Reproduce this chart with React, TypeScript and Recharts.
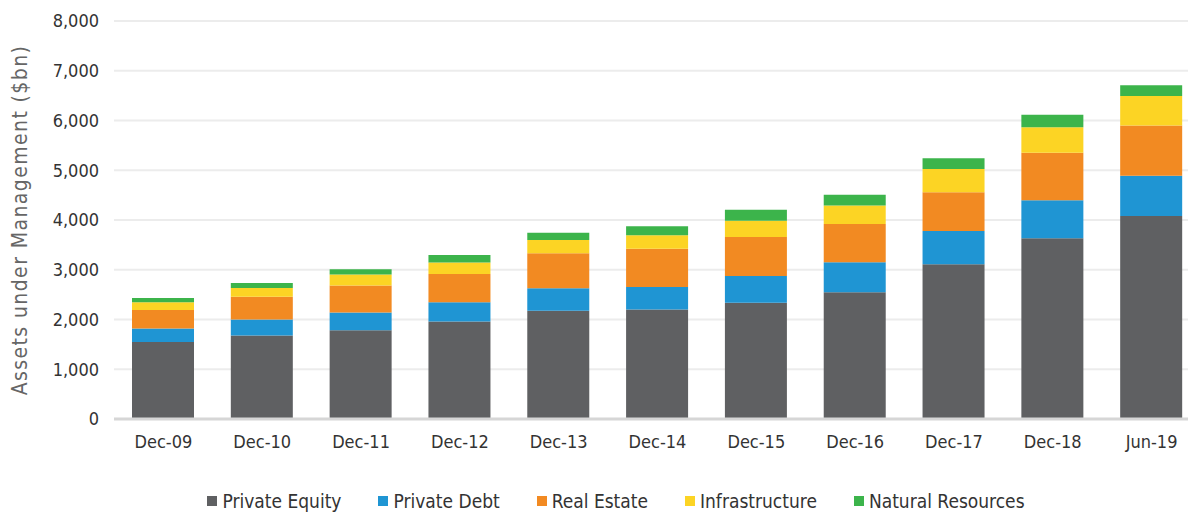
import { BarChart, Bar, XAxis, YAxis, CartesianGrid } from 'recharts';

// AuM by asset class ($bn)
const categories = ['Dec-09', 'Dec-10', 'Dec-11', 'Dec-12', 'Dec-13', 'Dec-14', 'Dec-15', 'Dec-16', 'Dec-17', 'Dec-18', 'Jun-19'];
const privateEquity = [1550, 1680, 1785, 1960, 2175, 2200, 2335, 2550, 3110, 3635, 4080];
const privateDebt = [270, 320, 355, 385, 455, 455, 540, 600, 670, 760, 810];
const realEstate = [370, 455, 545, 570, 700, 765, 785, 770, 780, 955, 1010];
const infrastructure = [155, 180, 220, 230, 270, 275, 325, 370, 465, 515, 590];
const naturalResources = [85, 100, 105, 150, 145, 180, 220, 220, 215, 250, 220];
const yTicks = [0, 1000, 2000, 3000, 4000, 5000, 6000, 7000, 8000];

const series = [
  { key: 'pe', name: 'Private Equity', color: '#5f6062', values: privateEquity },
  { key: 'pd', name: 'Private Debt', color: '#1f95d3', values: privateDebt },
  { key: 're', name: 'Real Estate', color: '#f28a22', values: realEstate },
  { key: 'infra', name: 'Infrastructure', color: '#fcd424', values: infrastructure },
  { key: 'nr', name: 'Natural Resources', color: '#3cb44b', values: naturalResources },
];

const data = categories.map((name, i) => {
  const row: Record<string, string | number> = { name };
  series.forEach(s => {
    row[s.key] = s.values[i];
  });
  return row;
});

const FONT = "'DejaVu Sans Condensed', 'Liberation Sans Narrow', Roboto, sans-serif";
const tickStyle = { fill: '#333', fontSize: 18, fontFamily: FONT };

function YLabel({ viewBox }: any) {
  const cy = viewBox.y + viewBox.height / 2;
  return (
    <text
      x={20}
      y={cy}
      transform={`rotate(-90, 20, ${cy})`}
      textAnchor="middle"
      dominantBaseline="central"
      fill="#666"
      fontSize={21}
      letterSpacing={1.4}
      fontFamily={FONT}
    >
      Assets under Management ($bn)
    </text>
  );
}

export default function App() {
  return (
    <div
      style={{
        position: 'absolute',
        left: 0,
        top: 0,
        width: 1188,
        height: 514,
        overflow: 'hidden',
        background: '#fff',
        fontFamily: FONT,
      }}
    >
      <BarChart
        width={1210}
        height={514}
        data={data}
        margin={{ top: 21, right: 9, left: 0, bottom: 65 }}
      >
        <CartesianGrid vertical={false} stroke="#ececec" strokeWidth={2} />
        <XAxis
          dataKey="name"
          tickLine={false}
          tickSize={0}
          tickMargin={16}
          height={30}
          axisLine={{ stroke: '#d6d6d6', strokeWidth: 3 }}
          tick={tickStyle}
          interval={0}
        />
        <YAxis
          width={114}
          domain={[0, 8000]}
          ticks={yTicks}
          interval={0}
          axisLine={false}
          tickLine={false}
          tickSize={0}
          tickMargin={15}
          tick={tickStyle}
          tickFormatter={(v: number) => v.toLocaleString('en-US')}
          label={<YLabel />}
        />
        {series.map(s => (
          <Bar
            key={s.key}
            dataKey={s.key}
            name={s.name}
            stackId="aum"
            fill={s.color}
            barSize={62}
            isAnimationActive={false}
          />
        ))}
      </BarChart>
      <div
        style={{
          position: 'absolute',
          left: 0,
          top: 490,
          width: 1232,
          display: 'flex',
          justifyContent: 'center',
          gap: 37,
          fontSize: 19,
          color: '#333',
        }}
      >
        {series.map(s => (
          <div key={s.key} style={{ display: 'flex', alignItems: 'center', gap: 5 }}>
            <span style={{ width: 10, height: 10, background: s.color, display: 'inline-block' }} />
            <span>{s.name}</span>
          </div>
        ))}
      </div>
    </div>
  );
}
